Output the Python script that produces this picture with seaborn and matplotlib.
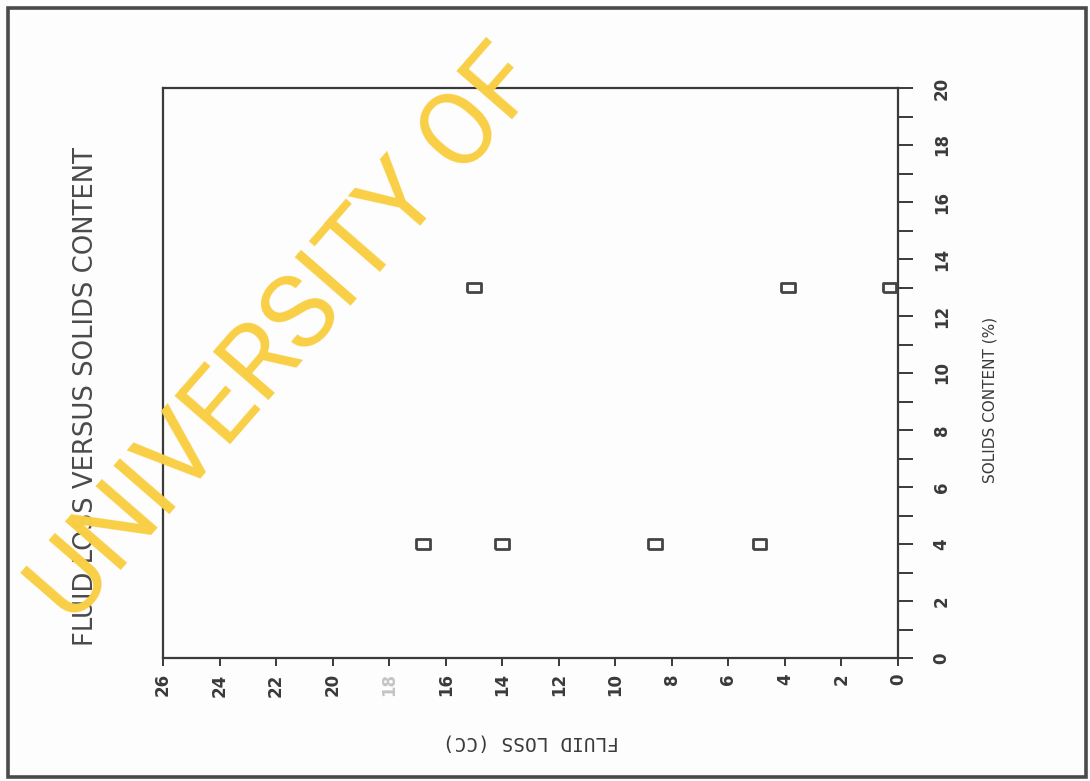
import matplotlib
matplotlib.use("Agg")
import matplotlib.pyplot as plt
from matplotlib.patches import Rectangle
import numpy as np
import pandas as pd
import seaborn as sns

# Fluid loss measurements at two solids contents
solids_content = [4, 4, 4, 4, 13, 13, 13]
fluid_loss = [16.8, 14.0, 8.6, 4.9, 15.0, 3.9, 0.3]

solids_ticks = [0, 2, 4, 6, 8, 10, 12, 14, 16, 18, 20]
fluid_ticks = [0, 2, 4, 6, 8, 10, 12, 14, 16, 18, 20, 22, 24, 26]

title_text = "FLUID LOSS VERSUS SOLIDS CONTENT"
fluid_label = "FLUID LOSS (CC)"
solids_label = "SOLIDS CONTENT (%)"
stamp_text = "UNIVERSITY OF"

sns.set_style("ticks")
plt.rcParams["font.family"] = ["DejaVu Sans"]

ink = "#3a3a3a"
W, H = 1090, 781
fig = plt.figure(figsize=(W / 100, H / 100), dpi=100)
fig.patch.set_facecolor("#fdfdfd")

def fx(px):
    return px / W

def fy(py):
    return 1 - py / H

ax = fig.add_axes([fx(163), fy(658), fx(898) - fx(163), fy(88) - fy(658)])
ax.set_facecolor("#fdfdfd")

df = pd.DataFrame({"fluid_loss": fluid_loss, "solids": solids_content})
box_marker = [(-1.4, -1), (1.4, -1), (1.4, 1), (-1.4, 1), (-1.4, -1)]
sns.scatterplot(data=df, x="fluid_loss", y="solids", ax=ax, marker=box_marker,
                s=95, facecolor="none", edgecolor="#444444", linewidth=2.0,
                zorder=3)

ax.set_xlim(26, 0)
ax.set_ylim(0, 20)

for sp in ax.spines.values():
    sp.set_color(ink)
    sp.set_linewidth(1.6)

# fluid loss along the bottom, labels turned with the page
ax.set_xticks(fluid_ticks)
ax.set_xticklabels([str(v) for v in fluid_ticks])
ax.tick_params(axis="x", which="major", direction="out", length=6, width=1.4,
               color=ink, labelcolor=ink, labelsize=12, labelrotation=90, pad=5)
for lab in ax.get_xticklabels():
    lab.set_fontweight("bold")
    if lab.get_text() == "18":
        lab.set_color("#c4c4c4")

# solids content along the right side
ax.yaxis.tick_right()
ax.set_yticks(solids_ticks)
ax.set_yticklabels([str(v) for v in solids_ticks])
ax.set_yticks(np.arange(1, 20, 2), minor=True)
ax.tick_params(axis="y", which="both", direction="out", length=11, width=1.4,
               color=ink, labelcolor=ink, left=False, right=True,
               labelleft=False, labelright=True)
ax.tick_params(axis="y", which="major", labelsize=12, labelrotation=90, pad=14)
for lab in ax.get_yticklabels():
    lab.set_fontweight("bold")
    lab.set_va("center")

ax.set_xlabel(fluid_label, rotation=180, fontsize=14, color=ink,
              family=["DejaVu Sans Mono"], va="center", ha="center")
ax.xaxis.set_label_coords(0.5, -0.147)
ax.yaxis.set_label_position("right")
ax.set_ylabel(solids_label, rotation=90, fontsize=11, color=ink,
              va="center", ha="center")
ax.yaxis.set_label_coords(1.125, 0.453)

fig.text(fx(86), fy(396), title_text, rotation=90, ha="center", va="center",
         fontsize=18.6, color="#4a4a4a")

# page border
fig.add_artist(Rectangle((fx(8), fy(777)), fx(1086) - fx(8), fy(8) - fy(777),
                         transform=fig.transFigure, fill=False,
                         lw=2.6, ec="#4a4a4a"))

# library stamp across the sheet
fig.text(fx(72), fy(626), stamp_text, rotation=49, rotation_mode="anchor",
         ha="left", va="baseline", fontsize=74, color="#f8cf45",
         family=["Roboto", "DejaVu Sans"], fontweight="normal", zorder=10)

fig.savefig("out.png", dpi=100, facecolor=fig.get_facecolor())
